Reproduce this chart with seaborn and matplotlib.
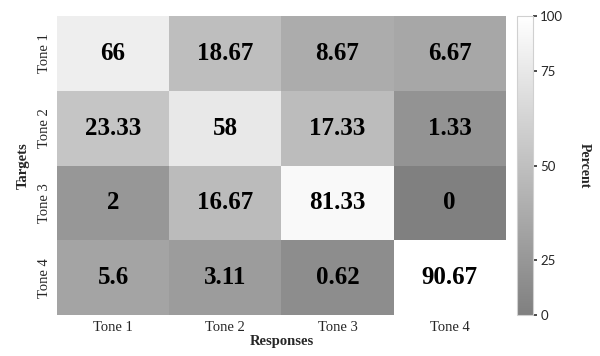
import numpy as np
import pandas as pd
import seaborn as sns
import matplotlib
matplotlib.use("Agg")
import matplotlib.pyplot as plt
from matplotlib.colors import LinearSegmentedColormap, PowerNorm, Normalize
from matplotlib.cm import ScalarMappable

targets = ["Tone 1", "Tone 2", "Tone 3", "Tone 4"]
responses = ["Tone 1", "Tone 2", "Tone 3", "Tone 4"]
row_tone1 = [66, 18.67, 8.67, 6.67]
row_tone2 = [23.33, 58, 17.33, 1.33]
row_tone3 = [2, 16.67, 81.33, 0]
row_tone4 = [5.6, 3.11, 0.62, 90.67]
cbar_ticks = [0, 25, 50, 75, 100]

df = pd.DataFrame([row_tone1, row_tone2, row_tone3, row_tone4],
                  index=targets, columns=responses)

sns.set_theme(style="white")
plt.rcParams['font.family'] = ['Liberation Serif', 'DejaVu Serif']

cmap = LinearSegmentedColormap.from_list("gw", ["#808080", "#ffffff"])
fig = plt.figure(figsize=(6, 3.56), dpi=100)
ax = fig.add_axes([0.095, 0.115, 0.748, 0.84])
cax = fig.add_axes([0.862, 0.115, 0.027, 0.84])

annot = df.map(lambda v: f"{v:g}")
sns.heatmap(df, ax=ax, cmap=cmap,
            norm=PowerNorm(gamma=0.45, vmin=0, vmax=df.values.max()),
            annot=annot, fmt="", cbar=False,
            annot_kws={"fontsize": 18, "fontweight": "bold", "color": "black",
                       "family": "Liberation Serif"})

ax.set_xlabel("Responses", fontsize=10.5, fontweight="bold", labelpad=1)
ax.set_ylabel("Targets", fontsize=10.5, fontweight="bold", labelpad=6)
ax.tick_params(axis="both", length=0, labelsize=10.5, pad=4)
ax.set_yticklabels(targets, rotation=90, va="center")
ax.set_xticklabels(responses, rotation=0)

sm = ScalarMappable(norm=Normalize(0, 100), cmap=cmap)
cb = fig.colorbar(sm, cax=cax)
pos = [0, 18.5, 50, 81.5, 100]
cb.set_ticks(pos)
cb.set_ticklabels([str(t) for t in cbar_ticks])
cax.tick_params(labelsize=9.5, length=3, direction="out", color="#333333", pad=2)
for lab in cax.get_yticklabels():
    lab.set_family(["Lato", "DejaVu Sans"])
cb.outline.set_edgecolor("#d0d0d0")
cb.outline.set_linewidth(0.8)
cb.set_label("Percent", rotation=270, fontsize=10, fontweight="bold", labelpad=20)

fig.savefig("out.png", dpi=100)
